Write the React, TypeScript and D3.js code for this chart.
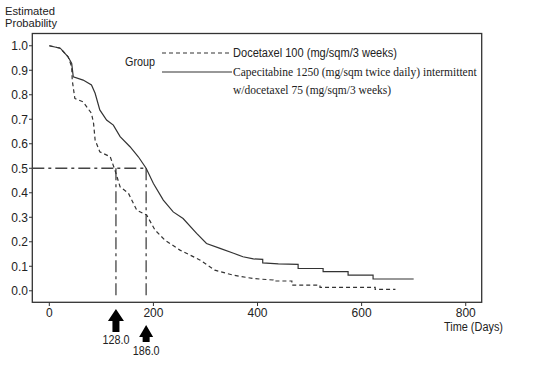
import React, { useEffect, useRef } from "react";
import * as d3 from "d3";

// Capecitabine 1250 + docetaxel 75 (solid)
const comboDays = [0, 21, 36, 43, 46, 65, 81, 88, 97, 110, 123, 136, 155, 171, 186, 200, 219, 238, 257, 283, 302, 328, 354, 372, 392, 410, 410, 440, 478, 478, 526, 526, 574, 574, 622, 622, 700];
const comboProb = [1.0, 0.99, 0.955, 0.928, 0.873, 0.86, 0.84, 0.806, 0.738, 0.697, 0.676, 0.629, 0.588, 0.547, 0.5, 0.438, 0.37, 0.322, 0.295, 0.234, 0.193, 0.173, 0.153, 0.139, 0.13, 0.128, 0.114, 0.11, 0.108, 0.091, 0.091, 0.078, 0.078, 0.064, 0.064, 0.048, 0.048];

// Docetaxel 100 (dashed)
const doceDays = [0, 21, 36, 43, 44, 49, 65, 81, 85, 88, 97, 117, 126, 136, 152, 168, 187, 203, 222, 251, 290, 318, 353, 391, 430, 430, 466, 466, 520, 520, 626, 626, 665];
const doceProb = [1.0, 0.99, 0.955, 0.914, 0.86, 0.785, 0.771, 0.724, 0.683, 0.615, 0.567, 0.547, 0.493, 0.424, 0.398, 0.329, 0.309, 0.248, 0.207, 0.166, 0.125, 0.084, 0.064, 0.05, 0.044, 0.04, 0.04, 0.023, 0.023, 0.014, 0.014, 0.006, 0.006];

const yTicks = [0, 0.1, 0.2, 0.3, 0.4, 0.5, 0.6, 0.7, 0.8, 0.9, 1.0];
const xTicks = [0, 200, 400, 600, 800];
const medians = [128, 186];
const legendLabels = ["Docetaxel 100 (mg/sqm/3 weeks)", "Capecitabine 1250 (mg/sqm twice daily) intermittent", "w/docetaxel 75 (mg/sqm/3 weeks)"];

const W = 537;
const H = 367;
const sans = "'Liberation Sans', Arial, sans-serif";
const serif = "'Liberation Serif', 'Times New Roman', serif";

export default function App() {
  const svgRef = useRef<SVGSVGElement>(null);

  useEffect(() => {
    const svg = d3.select(svgRef.current);
    svg.selectAll("*").remove();

    const x = d3.scaleLinear().domain([-32.7, 830.7]).range([32.3, 481.7]);
    const y = d3.scaleLinear().domain([-0.047, 1.05]).range([302.3, 33.5]);

    // frame
    svg.append("rect")
      .attr("x", x(-32.7)).attr("y", y(1.05))
      .attr("width", x(830.7) - x(-32.7)).attr("height", y(-0.047) - y(1.05))
      .attr("fill", "none").attr("stroke", "#333").attr("stroke-width", 1.3);

    // y ticks
    const yAx = svg.append("g");
    yTicks.forEach((t) => {
      yAx.append("line").attr("x1", 29).attr("x2", 32.3).attr("y1", y(t)).attr("y2", y(t)).attr("stroke", "#333");
      yAx.append("text").attr("x", 28).attr("y", y(t)).attr("dy", "0.36em")
        .attr("text-anchor", "end").attr("font-family", sans).attr("font-size", 12).attr("fill", "#222")
        .text(t.toFixed(1));
    });

    // x ticks
    const xAx = svg.append("g");
    xTicks.forEach((t) => {
      xAx.append("line").attr("x1", x(t)).attr("x2", x(t)).attr("y1", 302.3).attr("y2", 306).attr("stroke", "#333");
      xAx.append("text").attr("x", x(t)).attr("y", 313).attr("dy", "0.36em")
        .attr("text-anchor", "middle").attr("font-family", sans).attr("font-size", 12).attr("fill", "#222")
        .text(String(t));
    });
    svg.append("text").attr("x", 503).attr("y", 327).attr("dy", "0.36em")
      .attr("text-anchor", "end").attr("font-family", sans).attr("font-size", 12).attr("fill", "#222")
      .attr("textLength", 59).attr("lengthAdjust", "spacingAndGlyphs")
      .text("Time (Days)");

    // y title
    ["Estimated", "Probability"].forEach((s, i) => {
      svg.append("text").attr("x", 5).attr("y", 11 + i * 12.5).attr("dy", "0.36em")
        .attr("font-family", sans).attr("font-size", 11).attr("fill", "#222")
        .attr("textLength", i === 0 ? 50 : 52).attr("lengthAdjust", "spacingAndGlyphs").text(s);
    });

    // median reference lines
    const refDash = "12 4 3 4";
    svg.append("line")
      .attr("x1", x(-32.7)).attr("x2", x(186)).attr("y1", y(0.5)).attr("y2", y(0.5))
      .attr("stroke", "#444").attr("stroke-width", 1.3).attr("stroke-dasharray", refDash);
    medians.forEach((m) => {
      svg.append("line")
        .attr("x1", x(m)).attr("x2", x(m)).attr("y1", y(0.5)).attr("y2", y(-0.022))
        .attr("stroke", "#444").attr("stroke-width", 1.3).attr("stroke-dasharray", refDash);
    });

    const line = d3.line<[number, number]>().x((d) => x(d[0])).y((d) => y(d[1]));
    const doce = doceDays.map((d, i) => [d, doceProb[i]] as [number, number]);
    const combo = comboDays.map((d, i) => [d, comboProb[i]] as [number, number]);

    svg.append("path").attr("d", line(doce)!).attr("fill", "none")
      .attr("stroke", "#333").attr("stroke-width", 1.2).attr("stroke-dasharray", "4 3");
    svg.append("path").attr("d", line(combo)!).attr("fill", "none")
      .attr("stroke", "#333").attr("stroke-width", 1.2);

    // legend
    svg.append("text").attr("x", 125).attr("y", 62).attr("dy", "0.36em")
      .attr("font-family", sans).attr("font-size", 12).attr("fill", "#222")
      .attr("textLength", 30).attr("lengthAdjust", "spacingAndGlyphs").text("Group");
    svg.append("line").attr("x1", 162).attr("x2", 232).attr("y1", 53).attr("y2", 53)
      .attr("stroke", "#333").attr("stroke-width", 1.1).attr("stroke-dasharray", "4 3");
    svg.append("line").attr("x1", 162).attr("x2", 232).attr("y1", 72).attr("y2", 72)
      .attr("stroke", "#333").attr("stroke-width", 1.1);
    svg.append("text").attr("x", 233).attr("y", 53).attr("dy", "0.36em")
      .attr("font-family", sans).attr("font-size", 12).attr("fill", "#222")
      .attr("textLength", 164).attr("lengthAdjust", "spacingAndGlyphs").text(legendLabels[0]);
    svg.append("text").attr("x", 233).attr("y", 72).attr("dy", "0.36em")
      .attr("font-family", serif).attr("font-size", 11.5).attr("fill", "#222").text(legendLabels[1]);
    svg.append("text").attr("x", 233).attr("y", 90).attr("dy", "0.36em")
      .attr("font-family", serif).attr("font-size", 11.5).attr("fill", "#222").text(legendLabels[2]);

    // arrows for medians
    const arrows = [
      { m: medians[0], top: 309, bottom: 332, hw: 8, label: 340 },
      { m: medians[1], top: 325, bottom: 342, hw: 7, label: 351 },
    ];
    arrows.forEach((a) => {
      const cx = x(a.m);
      const headB = a.top + 12;
      const sw = 3.5;
      const p = d3.path();
      p.moveTo(cx, a.top);
      p.lineTo(cx + a.hw, headB);
      p.lineTo(cx + sw, headB);
      p.lineTo(cx + sw, a.bottom);
      p.lineTo(cx - sw, a.bottom);
      p.lineTo(cx - sw, headB);
      p.lineTo(cx - a.hw, headB);
      p.closePath();
      svg.append("path").attr("d", p.toString()).attr("fill", "#000");
      svg.append("text").attr("x", cx).attr("y", a.label).attr("dy", "0.36em")
        .attr("text-anchor", "middle").attr("font-family", sans).attr("font-size", 12).attr("fill", "#222")
        .attr("textLength", 27).attr("lengthAdjust", "spacingAndGlyphs")
        .text(a.m.toFixed(1));
    });
  }, []);

  return (
    <svg ref={svgRef} width={W} height={H}
      style={{ position: "absolute", left: 0, top: 0, background: "#fff" }} />
  );
}
